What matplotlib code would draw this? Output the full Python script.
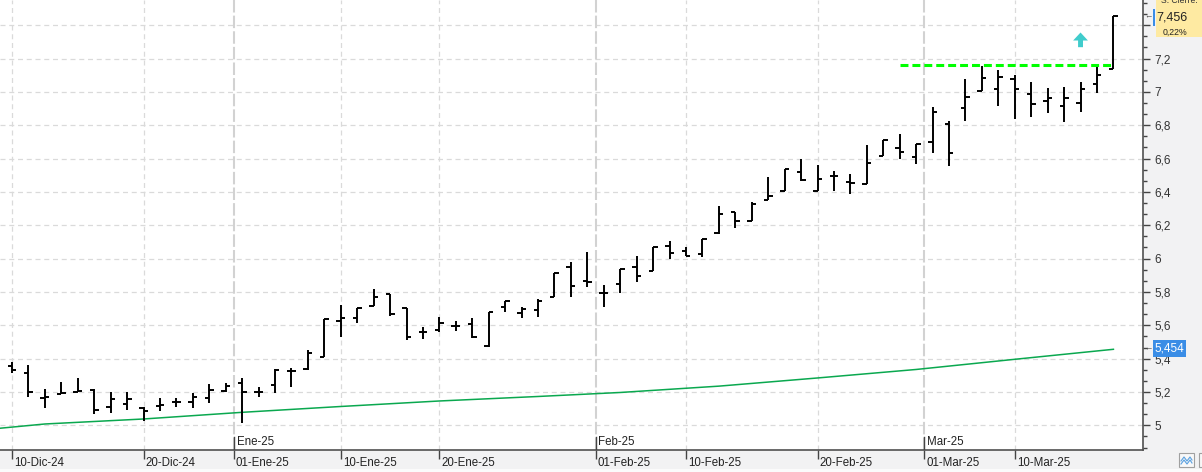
import matplotlib.pyplot as plt
import matplotlib.patches as mpatches
from matplotlib.lines import Line2D
from matplotlib.ticker import FixedLocator, FuncFormatter
import numpy as np

plt.rcParams['font.family'] = ['Liberation Sans', 'DejaVu Sans']

# barras diarias OHLC, 10-Dic-24 .. 18-Mar-25
apertura = [5.358, 5.312, 5.165, 5.186, 5.198, 5.214, 5.108, 5.126, 5.106, 5.118,
            5.142, 5.138, 5.162, 5.208, 5.256, 5.202, 5.242, 5.326, 5.336, 5.412,
            5.627, 5.642, 5.716, 5.786, 5.702, 5.558, 5.572, 5.598, 5.608, 5.476,
            5.708, 5.672, 5.692, 5.768, 5.948, 5.866, 5.792, 5.846, 5.948, 5.927,
            6.077, 6.046, 6.026, 6.152, 6.281, 6.226, 6.352, 6.407, 6.520, 6.407,
            6.496, 6.458, 6.448, 6.617, 6.662, 6.608, 6.698, 6.805, 6.902, 7.007,
            7.016, 7.076, 6.986, 6.947, 6.917, 6.932, 7.047, 7.136]
maximo = [5.377, 5.362, 5.216, 5.258, 5.282, 5.216, 5.202, 5.198, 5.112, 5.162,
          5.162, 5.196, 5.248, 5.252, 5.282, 5.228, 5.336, 5.342, 5.452, 5.636,
          5.722, 5.702, 5.816, 5.786, 5.702, 5.592, 5.648, 5.627, 5.642, 5.682,
          5.748, 5.712, 5.756, 5.912, 5.981, 6.041, 5.842, 5.936, 6.016, 6.071,
          6.106, 6.071, 6.116, 6.316, 6.281, 6.341, 6.488, 6.536, 6.596, 6.562,
          6.527, 6.506, 6.681, 6.711, 6.747, 6.688, 6.908, 6.825, 7.076, 7.155,
          7.131, 7.101, 7.058, 7.022, 7.028, 7.058, 7.151, 7.456]
minimo = [5.312, 5.168, 5.106, 5.186, 5.198, 5.066, 5.076, 5.092, 5.026, 5.086,
          5.112, 5.102, 5.136, 5.202, 5.016, 5.172, 5.192, 5.228, 5.332, 5.408,
          5.532, 5.612, 5.716, 5.656, 5.512, 5.516, 5.562, 5.568, 5.522, 5.472,
          5.682, 5.642, 5.648, 5.768, 5.768, 5.832, 5.708, 5.792, 5.862, 5.927,
          5.996, 6.016, 6.011, 6.148, 6.182, 6.226, 6.352, 6.407, 6.466, 6.407,
          6.407, 6.386, 6.448, 6.617, 6.599, 6.566, 6.635, 6.557, 6.827, 7.005,
          6.917, 6.837, 6.851, 6.875, 6.821, 6.881, 6.995, 7.136]
cierre = [5.332, 5.198, 5.170, 5.193, 5.208, 5.090, 5.156, 5.156, 5.086, 5.122,
          5.142, 5.168, 5.212, 5.238, 5.198, 5.202, 5.332, 5.326, 5.432, 5.636,
          5.642, 5.702, 5.771, 5.668, 5.532, 5.558, 5.612, 5.598, 5.532, 5.682,
          5.746, 5.698, 5.748, 5.912, 5.836, 5.862, 5.792, 5.936, 5.896, 6.071,
          6.032, 6.018, 6.116, 6.266, 6.226, 6.328, 6.377, 6.536, 6.472, 6.476,
          6.496, 6.452, 6.572, 6.711, 6.641, 6.688, 6.878, 6.632, 6.971, 7.082,
          7.088, 7.016, 6.926, 6.962, 6.962, 7.016, 7.101, 7.456]

# media movil (indice de barra, valor)
mm_idx = [-1, 2, 8, 14, 20, 26, 32, 37, 43, 49, 55, 61, 67]
mm_val = [4.980, 5.008, 5.038, 5.078, 5.113, 5.146, 5.173, 5.197, 5.235, 5.284,
          5.335, 5.396, 5.456]

fechas_pos = [0, 8, 13.5, 20, 26, 35.5, 41, 49, 55.5, 61]
fechas_txt = ['10-Dic-24', '20-Dic-24', '01-Ene-25', '10-Ene-25', '20-Ene-25',
              '01-Feb-25', '10-Feb-25', '20-Feb-25', '01-Mar-25', '10-Mar-25']
meses_pos = [13.5, 35.5, 55.5]
meses_txt = ['Ene-25', 'Feb-25', 'Mar-25']

resistencia = 7.16
resistencia_ini = 54
senal_idx = 65
ultimo_txt = '7,456'
variacion_txt = '0,22%'
mm_txt = '5,454'

W, H = 1202, 472
fig = plt.figure(figsize=(W / 100, H / 100), dpi=100, facecolor='#f2f2f3')
ax = fig.add_axes([0, 22 / H, 1143 / W, 450 / H], facecolor='white')

x = np.arange(len(cierre))
ax.vlines(x, minimo, maximo, color='black', lw=1.4, zorder=3)
ax.hlines(apertura, x - 0.27, x, color='black', lw=1.4, zorder=3)
ax.hlines(cierre, x, x + 0.27, color='black', lw=1.4, zorder=3)

ax.plot(mm_idx, mm_val, color='#0aa84f', lw=1.1, zorder=2)
ax.plot([resistencia_ini, x[-1]], [resistencia, resistencia], color='#00ff00',
        lw=2.2, dashes=(2.6, 1.3), zorder=4)
ax.add_patch(mpatches.FancyArrow(senal_idx, 7.268, 0, 0.04, width=0.3,
                                 head_width=0.9, head_length=0.048,
                                 color='#40cccc', lw=0, zorder=4))

ax.set_xlim(-0.73, 68.8)
ax.set_ylim(4.852, 7.551)

# rejilla
for p in fechas_pos:
    if p in meses_pos:
        ax.axvline(p, color='#d2d2d2', lw=1.5, ls=(0, (6, 1.5)), zorder=1)
        ax.plot([p, p], [0, 0.029], color='#444444', lw=1,
                transform=ax.get_xaxis_transform(), zorder=5)
    else:
        ax.axvline(p, color='#dadada', lw=0.9, ls=(0, (4, 3)), zorder=1)


def fmt_precio(v, pos):
    if v > 7.3:  # queda tapado por el recuadro de cierre
        return ''
    return ('%.1f' % v).replace('.0', '').replace('.', ',')


ax.yaxis.tick_right()
ax.yaxis.set_major_locator(FixedLocator([5 + 0.2 * k for k in range(13)]))
ax.yaxis.set_minor_locator(FixedLocator([5 + 0.2 * k / 3 for k in range(-2, 39)]))
ax.yaxis.set_major_formatter(FuncFormatter(fmt_precio))
ax.yaxis.grid(True, which='major', color='#dadada', lw=0.9, ls=(0, (4, 3)))
ax.set_axisbelow(True)
ax.tick_params(axis='y', which='major', length=5, width=1, color='#444444',
               pad=3, labelsize=8.5, labelcolor='#333333')
ax.tick_params(axis='y', which='minor', length=3, width=1, color='#444444')

ax.set_xticks(fechas_pos)
ax.tick_params(axis='x', length=6.5, width=1, color='#444444', labelbottom=False)
for p, t in zip(fechas_pos, fechas_txt):
    ax.text(p + 0.12, -0.028, t, transform=ax.get_xaxis_transform(), ha='left',
            va='center', fontsize=8.3, color='#222222', clip_on=False)
for p, t in zip(meses_pos, meses_txt):
    ax.text(p + 0.16, 0.018, t, transform=ax.get_xaxis_transform(), ha='left',
            va='center', fontsize=8.3, color='#222222')

for s in ['top', 'left']:
    ax.spines[s].set_visible(False)
for s in ['bottom', 'right']:
    ax.spines[s].set_color('#505050')
    ax.spines[s].set_linewidth(1.2)


def rect(x0, y0, x1, y1, **kw):
    fig.patches.append(mpatches.Rectangle((x0 / W, 1 - y1 / H), (x1 - x0) / W,
                                          (y1 - y0) / H, transform=fig.transFigure, **kw))


# etiquetas de precio del eje derecho
rect(1156, 0, 1202, 37, fc='#feeaa2', ec='none')
rect(1152.7, 9, 1155.3, 26, fc='#3a8de6', ec='none')
fig.text(1179 / W, 1 - 3 / H, 'S. Cierre:', ha='center', va='baseline',
         fontsize=6.2, color='#333333')
fig.text(1171.5 / W, 1 - 17 / H, ultimo_txt, ha='center', va='center',
         fontsize=9, color='#222222')
fig.text(1174.5 / W, 1 - 32 / H, variacion_txt, ha='center', va='center',
         fontsize=6.3, color='#222222')
fig.text(1148 / W, 1 - 17 / H, '←', ha='center', va='center', fontsize=6,
         color='#444444')

rect(1153, 340, 1186, 356.7, fc='#3a8de6', ec='none')
fig.text(1169.5 / W, 1 - 348.5 / H, mm_txt, ha='center', va='center',
         fontsize=8.5, color='white')
fig.text(1148 / W, 1 - 348.5 / H, '←', ha='center', va='center', fontsize=6,
         color='#444444')

# franja inferior y botones
rect(0, 469, 1202, 472, fc='#fbfbfb', ec='none')
rect(1178.7, 452.7, 1194, 467.3, fc='#f8f8f8', ec='#a0a0a0', lw=0.8)
rect(1199, 452.7, 1210, 467.3, fc='#f8f8f8', ec='#a0a0a0', lw=0.8)
for dy in (0, 3):
    zx = np.array([1181, 1184, 1187, 1190, 1192]) / W
    zy = 1 - (np.array([461, 457, 461, 457, 460]) + dy) / H
    fig.lines.append(Line2D(zx, zy, transform=fig.transFigure, color='#5aa0e0', lw=0.8))

fig.savefig('out.png', dpi=100, facecolor=fig.get_facecolor())
